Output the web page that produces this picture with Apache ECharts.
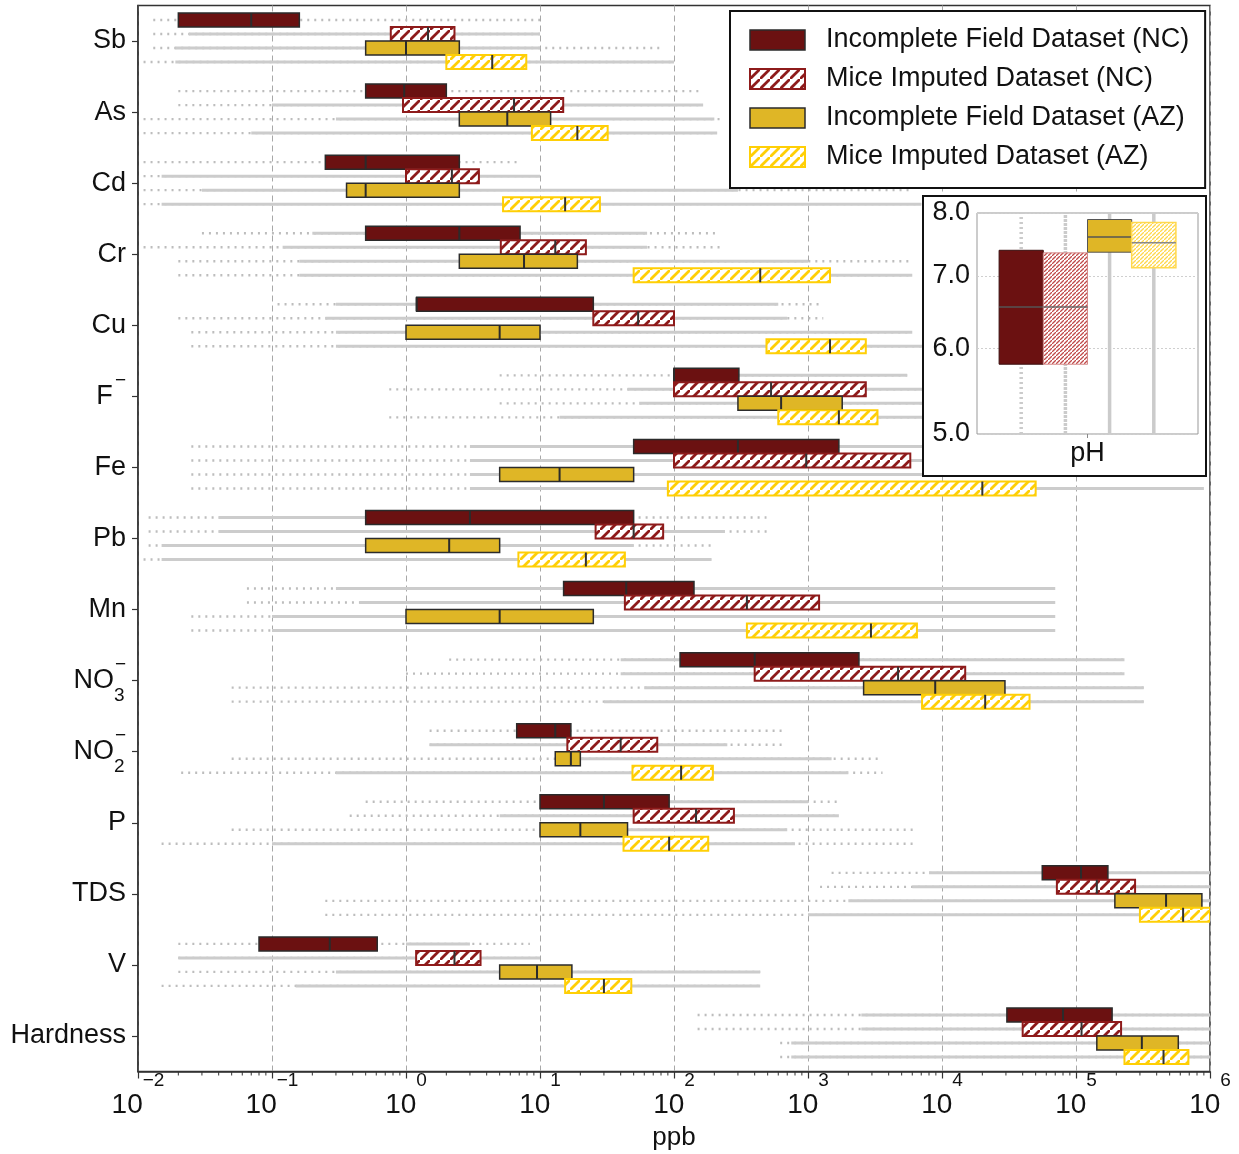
<!DOCTYPE html>
<html><head><meta charset="utf-8">
<script src="https://cdn.jsdelivr.net/npm/echarts@6/dist/echarts.min.js"></script>
<style>html,body{margin:0;padding:0;background:#fff}#c{width:1239px;height:1154px}</style>
</head><body><div id="c"></div>
<script>
// ---------------- DATA ----------------
const categories = ['Sb','As','Cd','Cr','Cu','F⁻','Fe','Pb','Mn','NO₃⁻','NO₂⁻','P','TDS','V','Hardness'];
const seriesNames = ['Incomplete Field Dataset (NC)','Mice Imputed Dataset (NC)','Incomplete Field Dataset (AZ)','Mice Imputed Dataset (AZ)'];
const xTickValues = [0.01,0.1,1,10,100,1000,10000,100000,1000000];

// box quartiles (ppb)
const ncIncQ1  = [0.02,0.5,0.25,0.5,1.2,100,50,0.5,15,111,6.7,10,56000,0.08,30500];
const ncIncMed = [0.07,0.97,0.5,2.5,1.2,100,300,3.0,44,400,13,30,109000,0.27,80000];
const ncIncQ3  = [0.16,2.0,2.5,7.1,25,305,1700,50,141,2400,17,92,173000,0.61,186000];

const ncImpQ1  = [0.77,0.95,1.0,5.1,25,100,100,26,43,400,16,50,72000,1.19,40000];
const ncImpMed = [1.46,6.4,2.2,13,54,530,970,50,350,4700,40,146,143000,2.3,110000];
const ncImpQ3  = [2.3,14.9,3.5,22,100,2700,5800,83,1210,14900,75,280,276000,3.6,217000];

const azIncQ1  = [0.5,2.5,0.36,2.5,1.0,300,5,0.5,1.0,2600,13,10,195000,5.0,143000];
const azIncMed = [1.0,5.7,0.5,7.6,5.0,630,14,2.1,5.0,8900,17,20,470000,9.5,310000];
const azIncQ3  = [2.5,12,2.5,19,10,1800,50,5,25,29500,20,45,870000,17.3,580000];

const azImpQ1  = [2.0,8.7,5.3,50,490,600,90,6.9,350,7100,49,42,300000,15.4,230000];
const azImpMed = [4.4,19,15.4,440,1460,1700,20000,22,2950,21000,113,92,630000,30,450000];
const azImpQ3  = [7.9,32,28,1460,2700,3300,50000,43,6500,45000,195,180,1000000,48,690000];

// spread of individual observations (ppb): sparse points range and dense range
const ncIncPtMin = [0.013,0.02,0.011,0.03,0.11,5,0.025,0.012,0.065,2.1,1.5,0.5,1500,0.02,150];
const ncIncPtMax = [10,160,7,220,1300,5500,8000,490,70000,230000,670,1700,1000000,8.4,1000000];
const ncIncDenseLo = [null,null,null,0.2,0.3,300,3,0.04,0.3,40,null,90,8000,1,2500];
const ncIncDenseHi = [null,null,null,63,600,5500,8000,0.5,70000,230000,null,1000,1000000,3,1000000];

const ncImpPtMin = [0.013,0.02,0.011,0.011,0.02,0.75,0.025,0.012,0.065,1.0,1.5,0.38,1230,0.02,150];
const ncImpPtMax = [10,165,10,220,1300,8000,8000,500,70000,230000,680,1700,1000000,10,1000000];
const ncImpDenseLo = [0.024,0.1,0.015,0.12,0.25,45,3,0.04,0.45,40,1.5,5,6000,0.02,2500];
const ncImpDenseHi = [10,165,10,63,700,8000,8000,240,70000,230000,250,1700,1000000,10,1000000];

const azIncPtMin = [0.013,0.011,0.011,0.02,0.025,5,0.025,0.012,0.025,0.05,0.05,0.05,0.25,0.02,620];
const azIncPtMax = [79,220,6000,5800,6000,8000,100000,190,70000,320000,3600,6400,1000000,440,1000000];
const azIncDenseLo = [0.019,0.3,0.03,0.16,0.3,55,3,0.015,0.1,60,20,45,2000,0.3,750];
const azIncDenseHi = [10,200,300,1000,6000,8000,100000,50,70000,320000,1500,700,1000000,440,1000000];

const azImpPtMin = [0.011,0.011,0.011,0.02,0.025,0.75,0.025,0.011,0.025,0.05,0.021,0.015,0.25,0.015,620];
const azImpPtMax = [100,210,7000,6000,8000,8000,900000,190,70000,320000,3600,6400,1000000,440,1000000];
const azImpDenseLo = [0.019,0.07,0.015,0.16,0.3,14,3,0.015,0.1,30,0.3,0.1,1000,0.15,750];
const azImpDenseHi = [100,210,7000,6000,8000,8000,900000,190,70000,320000,2000,800,1000000,440,1000000];

// inset pH (NC inc, NC imp, AZ inc, AZ imp)
const phCategory = ['pH'];
const phQ1  = [5.80,5.80,7.36,7.12];
const phMed = [6.55,6.55,7.60,7.51];
const phQ3  = [7.39,7.35,7.89,7.84];
const phMin = [5.0,5.0,5.0,5.0];
const phMax = [8.0,8.0,8.0,8.0];
const phTicks = [5,6,7,8];

// ---------------- STYLE ----------------
const FONT = 'Liberation Sans, Arial, Helvetica, sans-serif';
function hatch(color, size, lw) {
  const c = document.createElement('canvas'); c.width = size; c.height = size;
  const g = c.getContext('2d');
  g.fillStyle = '#ffffff'; g.fillRect(0,0,size,size);
  g.strokeStyle = color; g.lineWidth = lw; g.lineCap = 'butt';
  g.beginPath();
  g.moveTo(-size, 2*size); g.lineTo(2*size, -size);
  g.moveTo(-2*size, size); g.lineTo(size, -2*size);
  g.moveTo(0, 3*size); g.lineTo(3*size, 0);
  g.stroke();
  return {image: c, repeat: 'repeat'};
}
const hatchNC = hatch('#8e1b1b', 10, 2.8);
const hatchAZ = hatch('#ffcf06', 10, 2.8);
const hatchNCs = hatch('#c04a4a', 4, 1.3);
const hatchAZs = hatch('#ffd84d', 4, 1.3);

const boxStyles = [
  {fill:'#6b1111', stroke:'#2b2b2b', lw:1.5, med:'#2b2b2b'},
  {fill:hatchNC, stroke:'#8e1b1b', lw:2, med:'#333333'},
  {fill:'#dfb626', stroke:'#2b2b2b', lw:1.5, med:'#2b2b2b'},
  {fill:hatchAZ, stroke:'#ffcf06', lw:2, med:'#333333'}
];
const phStyles = [
  {fill:'#6b1111', stroke:'#3a1010', lw:1, med:'#555'},
  {fill:hatchNCs, stroke:'#d58a8a', lw:1, med:'#666'},
  {fill:'#dfb626', stroke:'#555', lw:1, med:'#555'},
  {fill:hatchAZs, stroke:'#ffd84d', lw:1.5, med:'#888'}
];
const rowOff = [-21/71.07, -7/71.07, 7/71.07, 21/71.07];
const boxH = 14/71.07;

const q1s = [ncIncQ1, ncImpQ1, azIncQ1, azImpQ1];
const meds = [ncIncMed, ncImpMed, azIncMed, azImpMed];
const q3s = [ncIncQ3, ncImpQ3, azIncQ3, azImpQ3];
const ptMins = [ncIncPtMin, ncImpPtMin, azIncPtMin, azImpPtMin];
const ptMaxs = [ncIncPtMax, ncImpPtMax, azIncPtMax, azImpPtMax];
const dLos = [ncIncDenseLo, ncImpDenseLo, azIncDenseLo, azImpDenseLo];
const dHis = [ncIncDenseHi, ncImpDenseHi, azIncDenseHi, azImpDenseHi];

const nv = v => (v == null ? '-' : v);

function bgRender(k) {
  return function (params, api) {
    const c = api.value(0);
    const band = params.coordSys.height / categories.length;
    const cy = api.coord([1, c])[1] + rowOff[k] * band;
    const a = api.value(1), lo = api.value(2), hi = api.value(3), b = api.value(4);
    const ch = [];
    if (!isNaN(a) && !isNaN(b)) {
      ch.push({type:'line', shape:{x1: api.coord([a,c])[0], y1: cy, x2: api.coord([b,c])[0], y2: cy},
        style:{stroke:'#bdbdbd', lineWidth:2.4, lineDash:[2,5]}});
    }
    if (!isNaN(lo) && !isNaN(hi)) {
      ch.push({type:'line', shape:{x1: api.coord([lo,c])[0], y1: cy, x2: api.coord([hi,c])[0], y2: cy},
        style:{stroke:'#cccccc', lineWidth:3}});
    }
    return {type:'group', children: ch};
  };
}
function boxRender(k) {
  return function (params, api) {
    const c = api.value(0);
    const band = params.coordSys.height / categories.length;
    const cy = api.coord([1, c])[1] + rowOff[k] * band;
    const h = boxH * band;
    const x1 = api.coord([api.value(1), c])[0];
    const xm = api.coord([api.value(2), c])[0];
    const x3 = api.coord([api.value(3), c])[0];
    const s = boxStyles[k];
    return {type:'group', children: [
      {type:'rect', shape:{x:x1, y:cy-h/2, width:x3-x1, height:h}, style:{fill:s.fill, stroke:s.stroke, lineWidth:s.lw}},
      {type:'line', shape:{x1:xm, y1:cy-h/2, x2:xm, y2:cy+h/2}, style:{stroke:s.med, lineWidth:2}}
    ]};
  };
}
function phRender(k) {
  return function (params, api) {
    const cs = params.coordSys;
    const bw = cs.width * 0.2;
    const cx = api.coord([api.value(0), 6])[0] + (k - 1.5) * bw;
    const y1 = api.coord([0, api.value(1)])[1];
    const ym = api.coord([0, api.value(2)])[1];
    const y3 = api.coord([0, api.value(3)])[1];
    const yl = api.coord([0, api.value(4)])[1];
    const yh = api.coord([0, api.value(5)])[1];
    const s = phStyles[k];
    const dash = k === 0 ? [2,3] : (k === 1 ? [3,1] : null);
    return {type:'group', children: [
      {type:'line', shape:{x1:cx, y1:yl, x2:cx, y2:yh}, style:{stroke:'#cbcbcb', lineWidth:3.5, lineDash:dash}},
      {type:'rect', shape:{x:cx-bw/2, y:y3, width:bw, height:y1-y3}, style:{fill:s.fill, stroke:s.stroke, lineWidth:s.lw}},
      {type:'line', shape:{x1:cx-bw/2, y1:ym, x2:cx+bw/2, y2:ym}, style:{stroke:s.med, lineWidth:1.5}}
    ]};
  };
}

// minor log ticks positions
const minorTicks = [];
for (let d = -2; d < 6; d++) for (let m = 2; m <= 9; m++) minorTicks.push([m * Math.pow(10, d), 0]);

function catLabel(name) {
  let s = name.replace(/₃/g, '{sub|3}').replace(/₂/g, '{sub|2}').replace(/⁻/g, '{sup|−}');
  if (/^F/.test(name)) s = s.replace('{sup|', '{sp| }{sup|');
  const m = s.indexOf('{');
  return m < 0 ? '{b|' + s + '}' : '{b|' + s.slice(0, m) + '}' + s.slice(m);
}

const series = [];
for (let k = 0; k < 4; k++) {
  series.push({
    type:'custom', name: 'bg' + k, xAxisIndex:0, yAxisIndex:0, z:2, clip:true, silent:true,
    renderItem: bgRender(k), encode:{x:[1,2,3,4], y:0},
    data: categories.map((c, i) => [i, nv(ptMins[k][i]), nv(dLos[k][i]), nv(dHis[k][i]), nv(ptMaxs[k][i])])
  });
}
for (let k = 0; k < 4; k++) {
  series.push({
    type:'custom', name: seriesNames[k], xAxisIndex:0, yAxisIndex:0, z:3, clip:true,
    renderItem: boxRender(k), encode:{x:[1,2,3], y:0},
    itemStyle:{color: k < 2 ? '#6b1111' : '#dfb626'},
    data: categories.map((c, i) => [i, q1s[k][i], meds[k][i], q3s[k][i]])
  });
}
series.push({
  type:'custom', name:'minorTicks', xAxisIndex:0, yAxisIndex:0, z:3, clip:false, silent:true,
  encode:{x:0, y:1},
  renderItem: function (params, api) {
    const cs = params.coordSys;
    const x = api.coord([api.value(0), 0])[0];
    const yb = cs.y + cs.height;
    return {type:'line', shape:{x1:x, y1:yb, x2:x, y2:yb+4}, style:{stroke:'#333', lineWidth:1}};
  },
  data: minorTicks
});
for (let k = 0; k < 4; k++) {
  series.push({
    type:'custom', name: 'pH ' + k, xAxisIndex:1, yAxisIndex:1, z:20, clip:true,
    renderItem: phRender(k), encode:{x:0, y:[1,2,3,4,5]},
    data: [[0, phQ1[k], phMed[k], phQ3[k], phMin[k], phMax[k]]]
  });
}

const option = {
  animation: false,
  backgroundColor: '#ffffff',
  textStyle: {fontFamily: FONT},
  grid: [
    {left:138, top:5.5, width:1072, height:1066, show:true, borderColor:'#333', borderWidth:1.5, backgroundColor:'transparent',
     containLabel:false, outerBoundsMode:'none'},
    {left:977, top:213, width:221, height:221, show:true, borderColor:'#999', borderWidth:1, backgroundColor:'transparent', z:20,
     containLabel:false, outerBoundsMode:'none'}
  ],
  xAxis: [
    {type:'log', logBase:10, min:0.01, max:1000000, splitNumber:8, gridIndex:0,
     name:'ppb', nameLocation:'middle', nameGap:53, nameMoveOverlap:false,
     nameTextStyle:{fontSize:26, color:'#111', fontFamily:FONT},
     axisLine:{show:true, lineStyle:{color:'#333', width:1.5}},
     axisTick:{show:true, length:7, lineStyle:{color:'#333', width:1.2}},
     minorTick:{show:false},
     splitLine:{show:true, lineStyle:{color:'#a8a8a8', type:[6,4], width:1}},
     axisLabel:{margin:0, color:'#111', fontFamily:FONT,
       formatter: function (v) { const e = Math.round(Math.log10(v)); return '{b|10}{s|' + (e < 0 ? '−' + (-e) : e) + '}'; },
       rich:{b:{fontSize:28, lineHeight:48, verticalAlign:'bottom', fontFamily:FONT, color:'#111'},
             s:{fontSize:19, lineHeight:20, verticalAlign:'top', fontFamily:FONT, color:'#111'}},
       showMinLabel:true, showMaxLabel:true}
    },
    {type:'category', gridIndex:1, data: phCategory, z:20,
     axisLine:{show:false}, axisTick:{show:true, alignWithLabel:true, length:4, lineStyle:{color:'#888'}},
     axisLabel:{fontSize:27, color:'#111', margin:6, fontFamily:FONT},
     splitLine:{show:false}}
  ],
  yAxis: [
    {type:'category', data: categories, inverse:true, gridIndex:0,
     axisLine:{show:true, lineStyle:{color:'#333', width:1.5}},
     axisTick:{show:true, alignWithLabel:true, length:6, lineStyle:{color:'#333', width:1.2}},
     splitLine:{show:false},
     axisLabel:{margin:12, color:'#111', fontFamily:FONT, formatter: catLabel,
       rich:{b:{fontSize:27, lineHeight:50, align:'left', fontFamily:FONT, color:'#111'},
             sp:{fontSize:8, align:'left', fontFamily:FONT},
             sup:{fontSize:19, lineHeight:18, align:'left', verticalAlign:'top', fontFamily:FONT, color:'#111'},
             sub:{fontSize:19, lineHeight:18, align:'left', verticalAlign:'bottom', width:1, fontFamily:FONT, color:'#111'}}}
    },
    {type:'log', logBase:10, min:5, max:8, gridIndex:1, z:20,
     axisLine:{show:false},
     axisTick:{show:false, customValues: phTicks},
     axisLabel:{customValues: phTicks, fontSize:27, color:'#111', margin:7, fontFamily:FONT,
       formatter: v => Number(v).toFixed(1)},
     splitLine:{show:true, lineStyle:{color:'#cfcfcf', type:[2,2], width:1}}
    }
  ],
  legend: {
    orient:'vertical', left:730, top:11, z:40,
    backgroundColor:'#ffffff', borderColor:'#111', borderWidth:2, borderRadius:0,
    padding:[14,16,16,19], itemGap:9, itemWidth:55, itemHeight:20,
    textStyle:{fontSize:27, color:'#111', fontFamily:FONT, lineHeight:30, padding:[0,0,0,16]},
    selectedMode:false,
    data: [
      {name: seriesNames[0], icon:'rect', itemStyle:{color:'#6b1111', borderColor:'#2b2b2b', borderWidth:1.5}},
      {name: seriesNames[1], icon:'rect', itemStyle:{color:hatchNC, borderColor:'#8e1b1b', borderWidth:2}},
      {name: seriesNames[2], icon:'rect', itemStyle:{color:'#dfb626', borderColor:'#2b2b2b', borderWidth:1.5}},
      {name: seriesNames[3], icon:'rect', itemStyle:{color:hatchAZ, borderColor:'#ffcf06', borderWidth:2}}
    ]
  },
  graphic: [
    {type:'rect', left:922, top:195, z:15, silent:true,
     shape:{width:283, height:280}, style:{fill:'#ffffff', stroke:'#111', lineWidth:2}}
  ],
  series: series
};
const chart = echarts.init(document.getElementById('c'), null, {renderer:'canvas'});
chart.setOption(option);
</script></body></html>
